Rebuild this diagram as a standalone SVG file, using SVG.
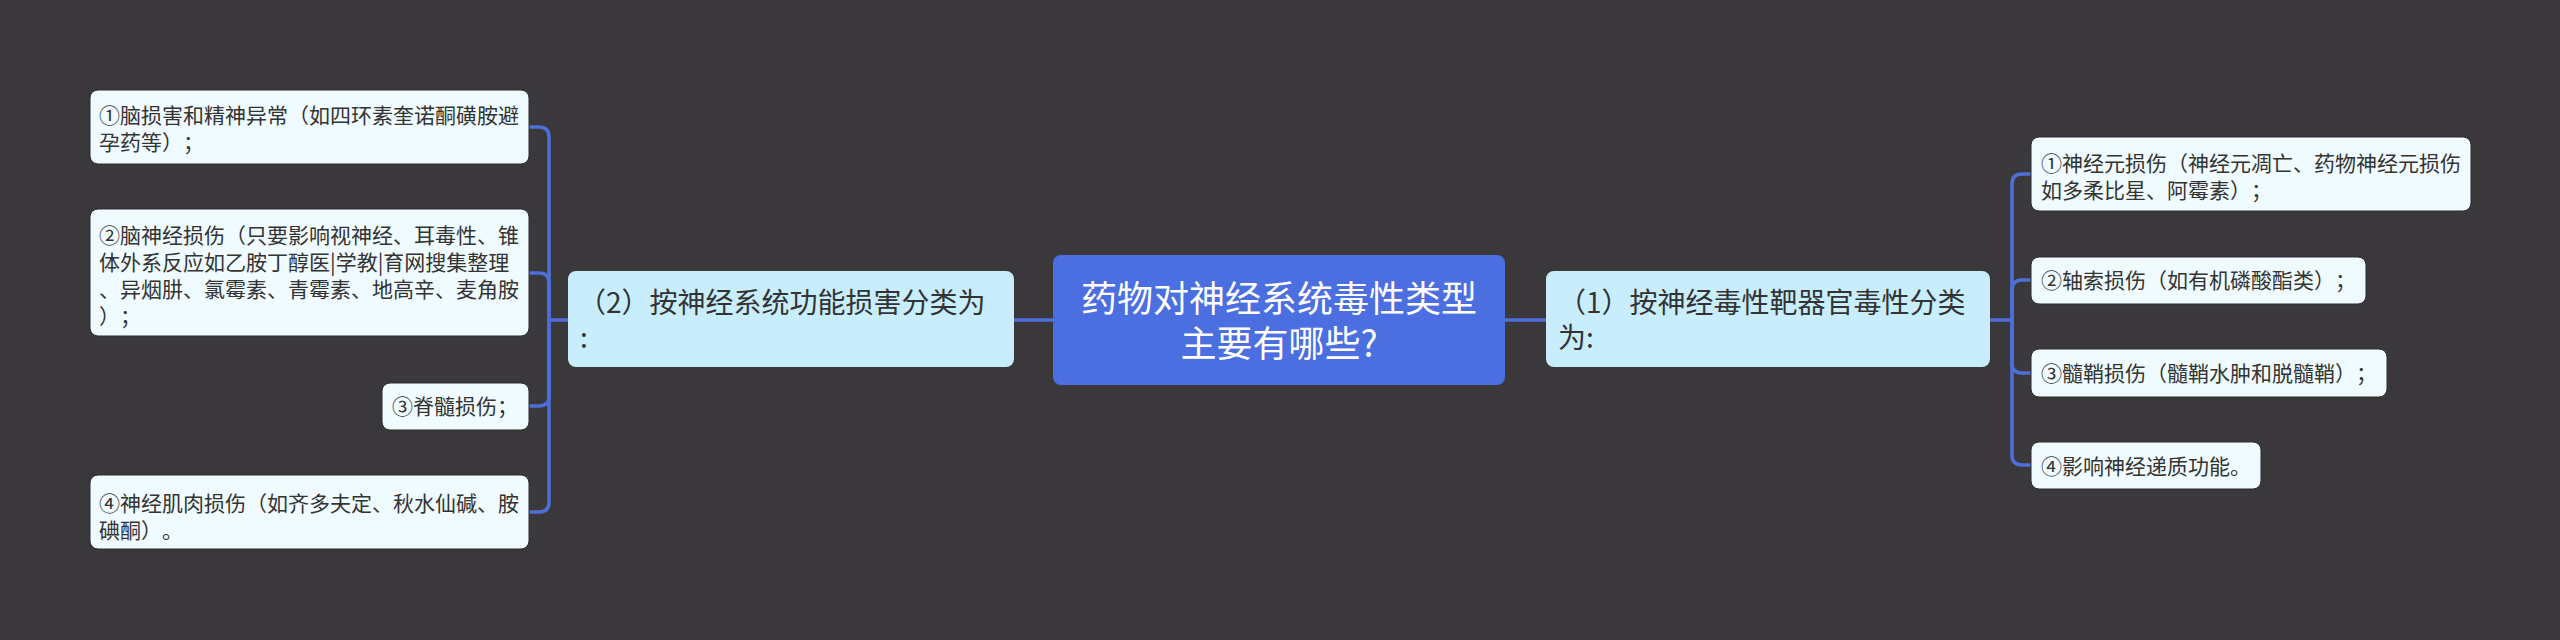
<svg xmlns="http://www.w3.org/2000/svg" width="2560" height="640" viewBox="0 0 2560 640">
<style>
.bg{fill:#3a383a}
.conn{fill:none;stroke:#4d6fd9;stroke-width:3.5;stroke-linecap:round}
.center rect{fill:#4b6ee0}
.center text{fill:#ffffff;font-size:36px;text-anchor:middle}
.branch rect{fill:#c8edfc}
.branch text{fill:#333333;font-size:28px}
.leaf rect{fill:#effbfe;stroke:#2a2a2c;stroke-width:1}
.leaf text{fill:#333333;font-size:21px}
text{font-family:"Noto Sans CJK SC","Noto Sans",sans-serif;text-spacing-trim:space-all}
</style>
<rect class="bg" x="0" y="0" width="2560" height="640"/>
<g id="connectors">
<path class="conn" d="M1053 320 L1014 320"/>
<path class="conn" d="M1505 320 L1546 320"/>
<path class="conn" d="M568 320 L549 320"/>
<path class="conn" d="M549 320 L549 137 Q549 127 539 127 L529 127"/>
<path class="conn" d="M549 320 L549 283 Q549 273 539 273 L529 273"/>
<path class="conn" d="M549 320 L549 396 Q549 406 539 406 L529 406"/>
<path class="conn" d="M549 320 L549 502 Q549 512 539 512 L529 512"/>
<path class="conn" d="M1990 320 L2012 320"/>
<path class="conn" d="M2012 320 L2012 184 Q2012 174 2022 174 L2031 174"/>
<path class="conn" d="M2012 320 L2012 290 Q2012 280 2022 280 L2031 280"/>
<path class="conn" d="M2012 320 L2012 363 Q2012 373 2022 373 L2031 373"/>
<path class="conn" d="M2012 320 L2012 455 Q2012 465 2022 465 L2031 465"/>
</g>
<g id="root" class="center">
<rect x="1053" y="255" width="452" height="130" rx="8"/>
<text x="1279" y="312">药物对神经系统毒性类型<tspan x="1279" y="357">主要有哪些?</tspan></text>
</g>
<g id="branch-left" class="branch">
<rect x="568" y="271" width="446" height="96" rx="8"/>
<text x="578" y="313">（2）按神经系统功能损害分类为<tspan x="580" y="348">:</tspan></text>
</g>
<g id="branch-right" class="branch">
<rect x="1546" y="271" width="444" height="96" rx="8"/>
<text x="1558" y="313">（1）按神经毒性靶器官毒性分类<tspan x="1558" y="348">为:</tspan></text>
</g>
<g id="left-1" class="leaf">
<rect x="90" y="90" width="439" height="74" rx="8"/>
<text x="99" y="123">①脑损害和精神异常（如四环素奎诺酮磺胺避<tspan x="99" y="150">孕药等）；</tspan></text>
</g>
<g id="left-2" class="leaf">
<rect x="90" y="209" width="439" height="127" rx="8"/>
<text x="99" y="243">②脑神经损伤（只要影响视神经、耳毒性、锥<tspan x="99" y="270">体外系反应如乙胺丁醇医|学教|育网搜集整理</tspan><tspan x="99" y="297">、异烟肼、氯霉素、青霉素、地高辛、麦角胺</tspan><tspan x="99" y="324">）；</tspan></text>
</g>
<g id="left-3" class="leaf">
<rect x="382" y="383" width="147" height="47" rx="8"/>
<text x="392" y="414">③脊髓损伤；</text>
</g>
<g id="left-4" class="leaf">
<rect x="90" y="475" width="439" height="74" rx="8"/>
<text x="99" y="511">④神经肌肉损伤（如齐多夫定、秋水仙碱、胺<tspan x="99" y="538">碘酮）。</tspan></text>
</g>
<g id="right-1" class="leaf">
<rect x="2031" y="137" width="440" height="74" rx="8"/>
<text x="2041" y="171">①神经元损伤（神经元凋亡、药物神经元损伤<tspan x="2041" y="198">如多柔比星、阿霉素）；</tspan></text>
</g>
<g id="right-2" class="leaf">
<rect x="2031" y="257" width="335" height="47" rx="8"/>
<text x="2041" y="288">②轴索损伤（如有机磷酸酯类）；</text>
</g>
<g id="right-3" class="leaf">
<rect x="2031" y="349" width="356" height="48" rx="8"/>
<text x="2041" y="381">③髓鞘损伤（髓鞘水肿和脱髓鞘）；</text>
</g>
<g id="right-4" class="leaf">
<rect x="2031" y="442" width="230" height="47" rx="8"/>
<text x="2041" y="474">④影响神经递质功能。</text>
</g>
</svg>
